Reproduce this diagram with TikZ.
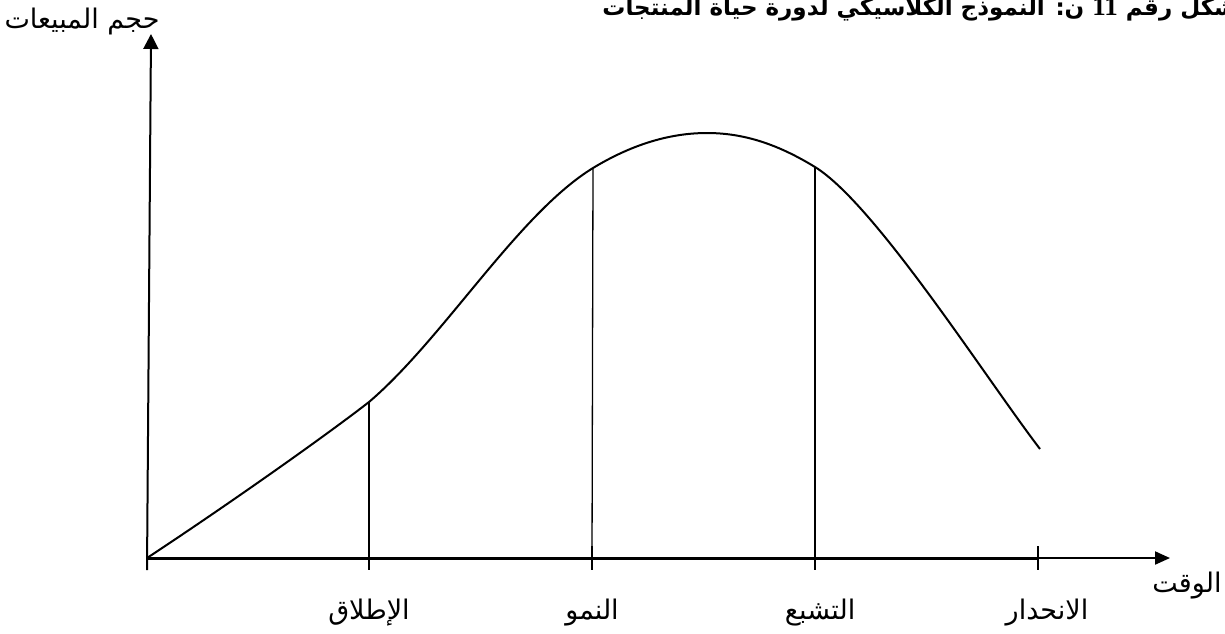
\documentclass[tikz,border=0pt]{standalone}
\usepackage{fontspec}
\usetikzlibrary{arrows.meta}
\newfontfamily\arabicfont[Script=Arabic]{DejaVu Sans}
\newfontfamily\latinserif{Liberation Serif}
\TeXXeTstate=1

\begin{document}
\begin{tikzpicture}[x=1pt,y=-1pt,
  lbl/.style={font=\arabicfont\fontsize{27}{30}\selectfont,inner sep=0pt},
  phase/.style={line width=1.3pt},
  tick/.style={line width=2pt}]
\clip (0,0) rectangle (1225,633);

% axes
\coordinate (O) at (147,558);
\coordinate (ytop) at (151,34);
\coordinate (xmid) at (1038,558);
\coordinate (xend) at (1170,558);
\draw[line width=2pt,-{Triangle[length=15pt,width=15pt]}] (147,570) -- (ytop);
\draw[line width=3pt] (O) -- (xmid);
\draw[line width=2pt,-{Triangle[length=15pt,width=13pt]}] (xmid) -- (xend);

% ticks on the time axis
\coordinate (t1) at (369,558);
\coordinate (t2) at (592,558);
\coordinate (t3) at (815,558);
\coordinate (t4) at (1038,558);
\foreach \t in {O,t1,t2,t3,t4}
  \draw[tick] (\t) ++(0,-12) -- ++(0,24);

% life cycle curve
\coordinate (c1) at (369,402);
\coordinate (c2) at (593,168);
\coordinate (peak) at (707,133);
\coordinate (c3) at (815,167);
\coordinate (cend) at (1040,449);
\draw[line width=2pt] (O) .. controls (220,510) and (320,440) .. (c1)
  .. controls (444,338) and (518,214) .. (c2)
  .. controls (631,145) and (669,133) .. (peak)
  .. controls (745,133) and (779,145) .. (c3)
  .. controls (875,204) and (985,377) .. (cend);
\draw[phase] (c1) -- (t1);
\draw[phase] (c2) -- (t2);
\draw[phase] (c3) -- (t3);

% labels
\node[lbl] (launch) at (369,613) {\beginR الإطلاق\endR};
\node[lbl] (growth) at (592,613) {\beginR النمو\endR};
\node[lbl] (maturity) at (820,613) {\beginR التشبع\endR};
\node[lbl] (decline) at (1047,613) {\beginR الانحدار\endR};
\node[lbl] (time) at (1187,586) {\beginR الوقت\endR};
\node[lbl] (sales) at (82,21) {\beginR حجم المبيعات\endR};
\node[anchor=base east,inner sep=0pt,font=\arabicfont\bfseries\fontsize{23}{27}\selectfont] (title)
  at (1237,15) {\beginR شكل رقم \beginL{\latinserif\bfseries\fontsize{27}{28}\selectfont 11}\endL{} ن: النموذج الكلاسيكي لدورة حياة المنتجات\endR};
\end{tikzpicture}
\end{document}
